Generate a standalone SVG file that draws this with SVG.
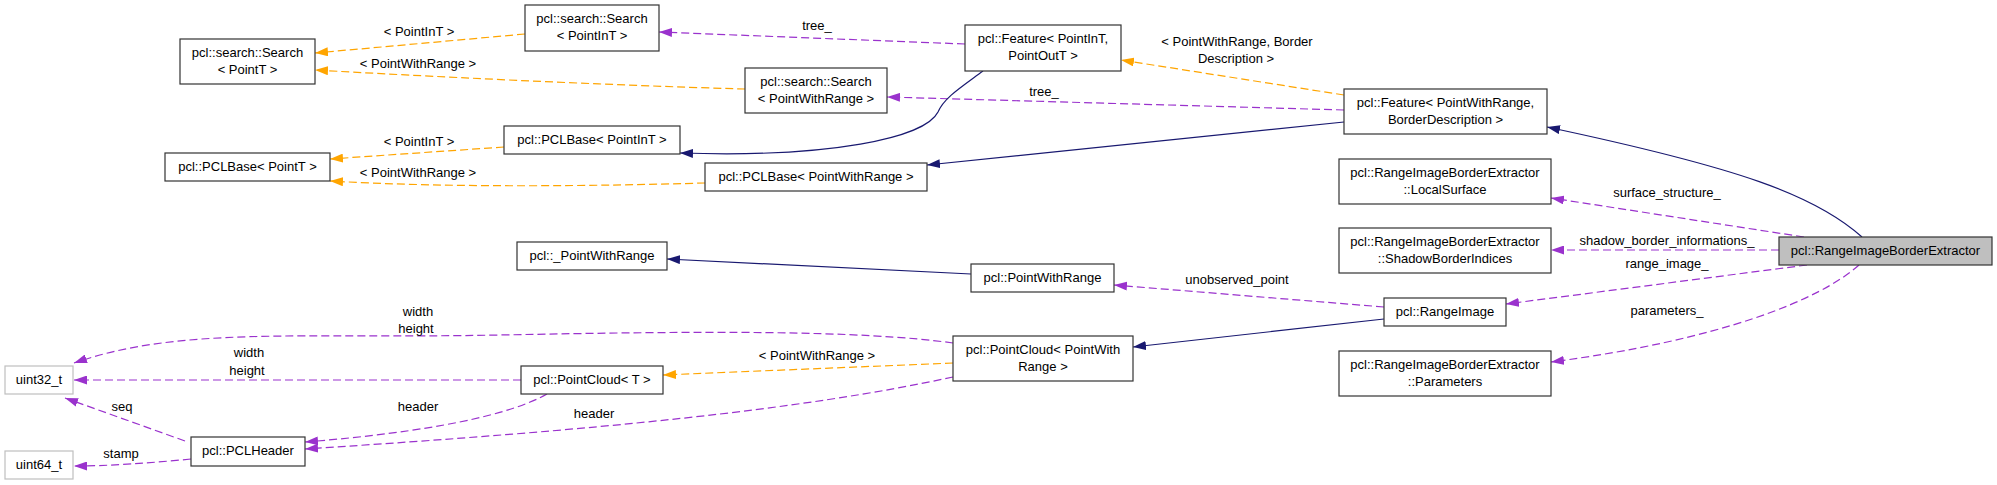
<svg xmlns="http://www.w3.org/2000/svg" width="1997" height="485" viewBox="0 0 1997 485">
<style>
  .n rect { fill: #ffffff; stroke: #333333; stroke-width: 1.2; }
  .n.g rect { stroke: #bfbfbf; }
  .n.cur rect { fill: #bfbfbf; stroke: #333333; }
  text { font-family: "Liberation Sans", Arial, sans-serif; font-size: 13px; fill: #000000; }
  .n text { text-anchor: middle; }
  .lbl { text-anchor: middle; }
  .e { fill: none; stroke-width: 1.2; }
  .inh { stroke: #191970; }
  .tpl { stroke: #ffa500; stroke-dasharray: 8,4; }
  .use { stroke: #9a32cd; stroke-dasharray: 8,4; }
</style>
<defs>
  <marker id="aN" viewBox="0 0 13 9" refX="13" refY="4.5" markerWidth="13" markerHeight="9" markerUnits="userSpaceOnUse" orient="auto"><path d="M0,0 L13,4.5 L0,9 z" fill="#191970"/></marker>
  <marker id="aO" viewBox="0 0 13 9" refX="13" refY="4.5" markerWidth="13" markerHeight="9" markerUnits="userSpaceOnUse" orient="auto"><path d="M0,0 L13,4.5 L0,9 z" fill="#ffa500"/></marker>
  <marker id="aP" viewBox="0 0 13 9" refX="13" refY="4.5" markerWidth="13" markerHeight="9" markerUnits="userSpaceOnUse" orient="auto"><path d="M0,0 L13,4.5 L0,9 z" fill="#9a32cd"/></marker>
</defs>
<rect x="0" y="0" width="1997" height="485" fill="#ffffff"/>
<g id="connectors">
  <path class="e tpl" marker-end="url(#aO)" d="M525,34 L315,53"/>
  <text class="lbl" x="419" y="36">&lt; PointInT &gt;</text>
  <path class="e tpl" marker-end="url(#aO)" d="M745,89 C600,85 420,76 315,70"/>
  <text class="lbl" x="418" y="68">&lt; PointWithRange &gt;</text>
  <path class="e tpl" marker-end="url(#aO)" d="M504,147 L330,159"/>
  <text class="lbl" x="419" y="146">&lt; PointInT &gt;</text>
  <path class="e tpl" marker-end="url(#aO)" d="M705,183 C600,186 450,188 330,181"/>
  <text class="lbl" x="418" y="177">&lt; PointWithRange &gt;</text>
  <path class="e use" marker-end="url(#aP)" d="M965,44 L659,32"/>
  <text class="lbl" x="817" y="30">tree_</text>
  <path class="e use" marker-end="url(#aP)" d="M1344,110 L887,97"/>
  <text class="lbl" x="1044" y="96">tree_</text>
  <path class="e tpl" marker-end="url(#aO)" d="M1344,95 L1121,60"/>
  <text class="lbl" x="1237" y="46">&lt; PointWithRange, Border</text>
  <text class="lbl" x="1236" y="63">Description &gt;</text>
  <path class="e inh" marker-end="url(#aN)" d="M983,71 C960,88 944,98 938,112 C925,138 830,158 680,153"/>
  <path class="e inh" marker-end="url(#aN)" d="M1344,122 L927,165"/>
  <path class="e inh" marker-end="url(#aN)" d="M1862,237 C1815,195 1740,168 1547,127"/>
  <path class="e use" marker-end="url(#aP)" d="M1804,237 L1551,198"/>
  <text class="lbl" x="1667" y="197">surface_structure_</text>
  <path class="e use" marker-end="url(#aP)" d="M1779,250 L1551,250"/>
  <text class="lbl" x="1667" y="245">shadow_border_informations_</text>
  <path class="e use" marker-end="url(#aP)" d="M1807,265 L1506,304"/>
  <text class="lbl" x="1667" y="268">range_image_</text>
  <path class="e use" marker-end="url(#aP)" d="M1859,265 C1820,300 1720,340 1551,362"/>
  <text class="lbl" x="1667" y="315">parameters_</text>
  <path class="e use" marker-end="url(#aP)" d="M1384,307 L1114,285"/>
  <text class="lbl" x="1237" y="284">unobserved_point</text>
  <path class="e inh" marker-end="url(#aN)" d="M1384,319 L1133,347"/>
  <path class="e inh" marker-end="url(#aN)" d="M971,274 L667,259"/>
  <path class="e tpl" marker-end="url(#aO)" d="M953,363 L663,375"/>
  <text class="lbl" x="817" y="360">&lt; PointWithRange &gt;</text>
  <path class="e use" marker-end="url(#aP)" d="M953,343 C860,330 700,331 500,335 C300,339 180,326 74,363"/>
  <text class="lbl" x="418" y="316">width</text>
  <text class="lbl" x="416" y="333">height</text>
  <path class="e use" marker-end="url(#aP)" d="M521,380 L74,380"/>
  <text class="lbl" x="249" y="357">width</text>
  <text class="lbl" x="247" y="375">height</text>
  <path class="e use" marker-end="url(#aP)" d="M547,394 C510,415 430,432 305,442"/>
  <text class="lbl" x="418" y="411">header</text>
  <path class="e use" marker-end="url(#aP)" d="M953,377 C800,410 600,430 305,449"/>
  <text class="lbl" x="594" y="418">header</text>
  <path class="e use" marker-end="url(#aP)" d="M185,441 L65,398"/>
  <text class="lbl" x="122" y="411">seq</text>
  <path class="e use" marker-end="url(#aP)" d="M191,459 C150,463 110,466 74,466"/>
  <text class="lbl" x="121" y="458">stamp</text>
</g>
<g id="n_search_pointt" class="n"><rect x="180" y="39" width="135" height="45"/><text x="247.5" y="57">pcl::search::Search</text><text x="247.5" y="74">&lt; PointT &gt;</text></g>
<g id="n_search_pointint" class="n"><rect x="525" y="5" width="134" height="46"/><text x="592" y="23">pcl::search::Search</text><text x="592" y="40">&lt; PointInT &gt;</text></g>
<g id="n_feature_pointint" class="n"><rect x="965" y="25" width="156" height="46"/><text x="1043" y="43">pcl::Feature&lt; PointInT,</text><text x="1043" y="60">PointOutT &gt;</text></g>
<g id="n_search_pwr" class="n"><rect x="745" y="68" width="142" height="45"/><text x="816" y="86">pcl::search::Search</text><text x="816" y="103">&lt; PointWithRange &gt;</text></g>
<g id="n_feature_pwr" class="n"><rect x="1344" y="89" width="203" height="45"/><text x="1445.5" y="107">pcl::Feature&lt; PointWithRange,</text><text x="1445.5" y="124">BorderDescription &gt;</text></g>
<g id="n_pclbase_pointt" class="n"><rect x="165" y="153" width="165" height="28"/><text x="247.5" y="171">pcl::PCLBase&lt; PointT &gt;</text></g>
<g id="n_pclbase_pointint" class="n"><rect x="504" y="126" width="176" height="28"/><text x="592" y="144">pcl::PCLBase&lt; PointInT &gt;</text></g>
<g id="n_pclbase_pwr" class="n"><rect x="705" y="163" width="222" height="28"/><text x="816" y="181">pcl::PCLBase&lt; PointWithRange &gt;</text></g>
<g id="n_localsurface" class="n"><rect x="1339" y="159" width="212" height="45"/><text x="1445" y="177">pcl::RangeImageBorderExtractor</text><text x="1445" y="194">::LocalSurface</text></g>
<g id="n_shadow" class="n"><rect x="1339" y="228" width="212" height="45"/><text x="1445" y="246">pcl::RangeImageBorderExtractor</text><text x="1445" y="263">::ShadowBorderIndices</text></g>
<g id="n_ribe" class="n cur"><rect x="1779" y="237" width="213" height="28"/><text x="1885.5" y="255">pcl::RangeImageBorderExtractor</text></g>
<g id="n__pointwithrange" class="n"><rect x="517" y="242" width="150" height="28"/><text x="592" y="260">pcl::_PointWithRange</text></g>
<g id="n_pointwithrange" class="n"><rect x="971" y="264" width="143" height="28"/><text x="1042.5" y="282">pcl::PointWithRange</text></g>
<g id="n_rangeimage" class="n"><rect x="1384" y="298" width="122" height="28"/><text x="1445" y="316">pcl::RangeImage</text></g>
<g id="n_parameters" class="n"><rect x="1339" y="351" width="212" height="45"/><text x="1445" y="369">pcl::RangeImageBorderExtractor</text><text x="1445" y="386">::Parameters</text></g>
<g id="n_pointcloud_pwr" class="n"><rect x="953" y="336" width="180" height="45"/><text x="1043" y="354">pcl::PointCloud&lt; PointWith</text><text x="1043" y="371">Range &gt;</text></g>
<g id="n_uint32" class="n g"><rect x="5" y="366" width="68" height="28"/><text x="39" y="384">uint32_t</text></g>
<g id="n_pointcloud_t" class="n"><rect x="521" y="366" width="142" height="28"/><text x="592" y="384">pcl::PointCloud&lt; T &gt;</text></g>
<g id="n_pclheader" class="n"><rect x="191" y="437" width="114" height="29"/><text x="248" y="455">pcl::PCLHeader</text></g>
<g id="n_uint64" class="n g"><rect x="5" y="451" width="68" height="28"/><text x="39" y="469">uint64_t</text></g>
</svg>
